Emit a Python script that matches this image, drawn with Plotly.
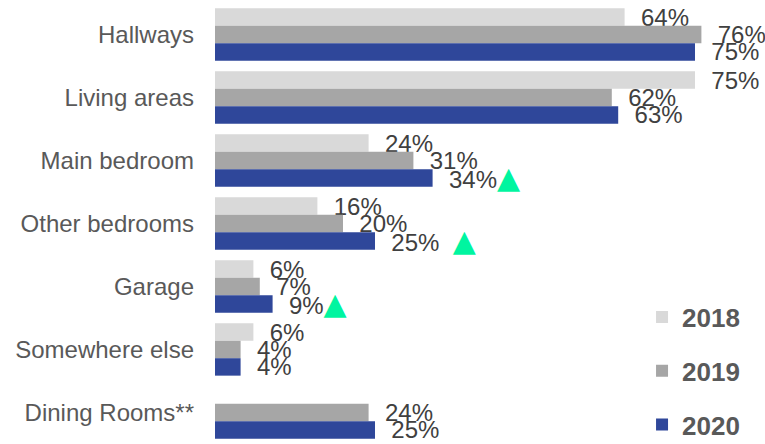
import plotly.graph_objects as go

categories = ["Hallways", "Living areas", "Main bedroom", "Other bedrooms",
              "Garage", "Somewhere else", "Dining Rooms**"]
years = ["2018", "2019", "2020"]
v2018 = [64, 75, 24, 16, 6, 6, None]
v2019 = [76, 62, 31, 20, 7, 4, 24]
v2020 = [75, 63, 34, 25, 9, 4, 25]
# significant increase marker for 2020 ("" = none, "gap" = marker separated by space)
up_2020 = ["", "", "tight", "gap", "tight", "", ""]

colors = ["#D9D9D9", "#A6A6A6", "#2F479A"]
green = "#00F5A0"
FONT = "Liberation Sans, Arial, sans-serif"
NB = "\u00a0"


def labels(vals, marks=None):
    out = []
    for i, v in enumerate(vals):
        if v is None:
            out.append("")
            continue
        t = NB * 2 + f"{v}%"
        if marks and marks[i]:
            sep = NB * 2 if marks[i] == "gap" else ""
            t += sep + (f"<span style='color:{green};font-family:DejaVu Sans;"
                        f"font-size:30px'>▲</span>")
        out.append(t)
    return out


fig = go.Figure()
series = [v2018, v2019, v2020]
for k, (yr, vals) in enumerate(zip(years, series)):
    fig.add_trace(go.Bar(
        y=categories, x=vals, orientation="h", name=yr,
        marker=dict(color=colors[k], line=dict(width=0)),
        text=labels(vals, up_2020 if yr == "2020" else None),
        textposition="outside", constraintext="none", cliponaxis=False,
        textfont=dict(family=FONT, size=24, color="#404040"),
        showlegend=False, hoverinfo="skip",
    ))
    # legend entry with a square swatch
    fig.add_trace(go.Scatter(
        x=[None], y=[None], mode="markers", name=yr, legendgroup=yr,
        marker=dict(symbol="square", size=15, color=colors[k]),
        showlegend=True,
    ))

fig.update_layout(
    width=765, height=444,
    margin=dict(l=215, r=6, t=3, b=0, autoexpand=False),
    barmode="group", bargap=0.17, bargroupgap=0,
    plot_bgcolor="white", paper_bgcolor="white",
    font=dict(family=FONT, color="#595959"),
    legend=dict(
        x=0.785, y=0.341, xanchor="left", yanchor="top",
        font=dict(family=FONT, size=26, color="#595959", weight="bold"),
        tracegroupgap=17, bgcolor="rgba(0,0,0,0)", itemsizing="constant",
    ),
)
fig.update_xaxes(range=[0, 85], visible=False, fixedrange=True)
fig.update_yaxes(
    autorange="reversed", showline=False, showgrid=False, zeroline=False,
    ticks="", ticklabelstandoff=20,
    tickfont=dict(family=FONT, size=24, color="#595959"),
)

fig.write_html("out.html")
